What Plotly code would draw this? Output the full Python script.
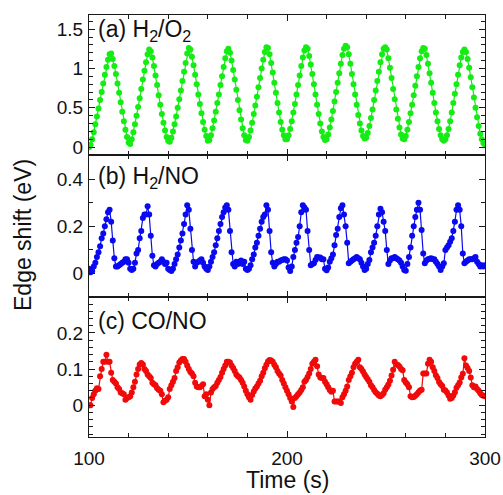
import plotly.graph_objects as go

# ---- data ----
t_start = 100.0
t_step = 0.8

h2o2 = [0.00, 0.03, 0.10, 0.19, 0.29, 0.39, 0.49, 0.60, 0.70, 0.81, 0.92, 1.02, 1.11, 1.18, 1.19,
        1.12, 1.03, 0.93, 0.81, 0.69, 0.57, 0.45, 0.33, 0.22, 0.13, 0.06, 0.04,
        0.10, 0.19, 0.29, 0.40, 0.51, 0.62, 0.74, 0.86, 0.97, 1.08, 1.18, 1.24, 1.22,
        1.14, 1.03, 0.91, 0.79, 0.66, 0.54, 0.42, 0.31, 0.21, 0.13, 0.08, 0.07,
        0.12, 0.20, 0.29, 0.39, 0.50, 0.61, 0.72, 0.84, 0.96, 1.07, 1.19, 1.26, 1.24,
        1.15, 1.04, 0.92, 0.80, 0.67, 0.55, 0.43, 0.32, 0.22, 0.14, 0.08, 0.09,
        0.15, 0.24, 0.34, 0.45, 0.56, 0.67, 0.79, 0.90, 1.02, 1.13, 1.22, 1.25,
        1.20, 1.10, 0.98, 0.86, 0.73, 0.60, 0.47, 0.35, 0.24, 0.15, 0.09, 0.08,
        0.13, 0.21, 0.31, 0.42, 0.53, 0.64, 0.76, 0.88, 1.00, 1.11, 1.21, 1.27, 1.26,
        1.18, 1.07, 0.95, 0.82, 0.69, 0.56, 0.44, 0.32, 0.22, 0.15, 0.10, 0.10,
        0.15, 0.23, 0.33, 0.44, 0.55, 0.67, 0.79, 0.91, 1.03, 1.14, 1.23, 1.27, 1.25,
        1.16, 1.05, 0.93, 0.80, 0.67, 0.54, 0.42, 0.30, 0.20, 0.13, 0.09, 0.10,
        0.16, 0.25, 0.35, 0.46, 0.58, 0.70, 0.82, 0.94, 1.06, 1.17, 1.25, 1.29, 1.27,
        1.18, 1.06, 0.93, 0.80, 0.67, 0.54, 0.41, 0.30, 0.21, 0.14, 0.11, 0.12,
        0.18, 0.27, 0.37, 0.48, 0.60, 0.72, 0.84, 0.96, 1.08, 1.18, 1.25, 1.27,
        1.24, 1.13, 1.01, 0.88, 0.74, 0.61, 0.48, 0.36, 0.25, 0.16, 0.11, 0.10,
        0.14, 0.22, 0.32, 0.43, 0.54, 0.66, 0.78, 0.90, 1.02, 1.13, 1.22, 1.26, 1.25,
        1.17, 1.06, 0.94, 0.82, 0.69, 0.56, 0.44, 0.33, 0.23, 0.15, 0.10, 0.08, 0.10,
        0.15, 0.23, 0.33, 0.44, 0.56, 0.68, 0.80, 0.92, 1.04, 1.14, 1.21, 1.24, 1.21,
        1.12, 1.01, 0.89, 0.76, 0.63, 0.50, 0.38, 0.27, 0.17, 0.10, 0.05, 0.03]

h2no = [0.02, 0.005, 0.01, 0.03, 0.045, 0.07, 0.09, 0.115, 0.15, 0.17, 0.20, 0.23, 0.26, 0.27,
        0.22, 0.14, 0.065, 0.03, 0.03, 0.035, 0.04, 0.045, 0.05, 0.06, 0.06, 0.045, 0.02,
        0.015, 0.02, 0.045, 0.085, 0.10, 0.15, 0.18, 0.235, 0.25, 0.25, 0.285, 0.25, 0.16,
        0.075, 0.035, 0.03, 0.04, 0.045, 0.05, 0.06, 0.05, 0.04, 0.045, 0.02, 0.015, 0.01,
        0.02, 0.04, 0.06, 0.08, 0.11, 0.14, 0.17, 0.21, 0.25, 0.29, 0.27, 0.19, 0.10, 0.05,
        0.03, 0.045, 0.05, 0.055, 0.06, 0.045, 0.03, 0.02, 0.015, 0.03, 0.05, 0.07, 0.09,
        0.12, 0.15, 0.18, 0.21, 0.24, 0.26, 0.28, 0.29, 0.27, 0.18, 0.09, 0.04, 0.03, 0.05,
        0.04, 0.05, 0.055, 0.04, 0.05, 0.02, 0.015, 0.02, 0.035, 0.06, 0.08, 0.11, 0.13,
        0.16, 0.19, 0.22, 0.24, 0.25, 0.29, 0.27, 0.18, 0.09, 0.045, 0.03, 0.04, 0.05, 0.05,
        0.055, 0.057, 0.06, 0.06, 0.055, 0.025, 0.01, 0.03, 0.07, 0.10, 0.13, 0.155, 0.20,
        0.26, 0.29, 0.28, 0.27, 0.18, 0.10, 0.035, 0.04, 0.043, 0.057, 0.07, 0.068, 0.068,
        0.06, 0.06, 0.02, 0.014, 0.025, 0.05, 0.065, 0.08, 0.12, 0.163, 0.19, 0.24, 0.277,
        0.29, 0.25, 0.20, 0.13, 0.043, 0.05, 0.055, 0.06, 0.065, 0.07, 0.065, 0.06, 0.045,
        0.03, 0.015, 0.02, 0.04, 0.057, 0.09, 0.11, 0.13, 0.16, 0.20, 0.25, 0.275, 0.26,
        0.22, 0.18, 0.10, 0.04, 0.055, 0.065, 0.065, 0.07, 0.065, 0.06, 0.055, 0.045, 0.03,
        0.015, 0.012, 0.04, 0.07, 0.11, 0.16, 0.20, 0.24, 0.27, 0.30, 0.27, 0.185, 0.085,
        0.043, 0.055, 0.06, 0.062, 0.065, 0.06, 0.06, 0.05, 0.04, 0.03, 0.015, 0.03, 0.043,
        0.10, 0.11, 0.12, 0.135, 0.15, 0.18, 0.22, 0.27, 0.29, 0.27, 0.20, 0.085, 0.043,
        0.05, 0.055, 0.06, 0.06, 0.06, 0.065, 0.07, 0.05, 0.04, 0.03, 0.035, 0.03, 0.035]

cono = [0.00, 0.00, 0.02, 0.03, 0.04, 0.047, 0.045, 0.08, 0.10, 0.12, 0.12, 0.14, 0.12, 0.12,
        0.09, 0.07, 0.065, 0.06, 0.05, 0.045, 0.035, 0.033, 0.03, 0.015, 0.02, 0.022, 0.025,
        0.035, 0.05, 0.065, 0.085, 0.10, 0.113, 0.117, 0.113, 0.10, 0.095, 0.085, 0.08,
        0.075, 0.062, 0.058, 0.055, 0.047, 0.043, 0.04, 0.03, 0.008, 0.012, 0.015, 0.022,
        0.045, 0.055, 0.065, 0.075, 0.095, 0.105, 0.118, 0.124, 0.128, 0.128, 0.12, 0.11,
        0.10, 0.092, 0.088, 0.08, 0.062, 0.052, 0.05, 0.05, 0.053, 0.058, 0.025, 0.03,
        0.015, 0.00, 0.035, 0.045, 0.05, 0.053, 0.062, 0.07, 0.078, 0.09, 0.10, 0.11, 0.12,
        0.12, 0.118, 0.11, 0.103, 0.095, 0.085, 0.08, 0.077, 0.07, 0.062, 0.052, 0.04, 0.03,
        0.022, 0.015, 0.028, 0.038, 0.046, 0.052, 0.06, 0.068, 0.08, 0.09, 0.102, 0.112,
        0.121, 0.125, 0.124, 0.12, 0.112, 0.105, 0.095, 0.088, 0.082, 0.07, 0.06, 0.05,
        0.04, 0.03, 0.02, 0.01, -0.005, 0.02, 0.025, 0.03, 0.035, 0.042, 0.05, 0.065, 0.07,
        0.078, 0.088, 0.10, 0.115, 0.12, 0.126, 0.108, 0.085, 0.077, 0.075, 0.075, 0.065,
        0.058, 0.05, 0.042, 0.037, 0.04, 0.01, 0.01, 0.01, 0.01, 0.006, 0.022, 0.03, 0.04,
        0.052, 0.07, 0.08, 0.09, 0.105, 0.115, 0.12, 0.126, 0.105, 0.10, 0.093, 0.085,
        0.078, 0.072, 0.065, 0.055, 0.05, 0.042, 0.036, 0.032, 0.027, 0.025, 0.028, 0.033,
        0.043, 0.05, 0.057, 0.068, 0.082, 0.098, 0.12, 0.113, 0.111, 0.107, 0.10, 0.097,
        0.07, 0.063, 0.058, 0.05, 0.025, 0.022, 0.023, 0.026, 0.03, 0.036, 0.041, 0.043,
        0.088, 0.088, 0.088, 0.115, 0.126, 0.12, 0.105, 0.095, 0.083, 0.075, 0.064, 0.058,
        0.053, 0.043, 0.041, 0.035, 0.027, 0.018, 0.02, 0.027, 0.036, 0.048, 0.055, 0.063,
        0.077, 0.087, 0.13, 0.11, 0.103, 0.095, 0.077, 0.055, 0.05, 0.052, 0.045, 0.04,
        0.033, 0.028, 0.026, 0.025]

time = [t_start + t_step * i for i in range(len(h2o2))]

labels = ["(a) H<sub>2</sub>/O<sub>2</sub>", "(b) H<sub>2</sub>/NO", "(c) CO/NO"]
colors = ["#14ec14", "#0a0af0", "#f00a0a"]
series = [h2o2, h2no, cono]

# ---- figure ----
FONT = "Liberation Sans, Arial, Helvetica, sans-serif"
fig = go.Figure()

yaxes = ["y", "y2", "y3"]
xaxes = ["x", "x2", "x3"]
for k in range(3):
    fig.add_trace(go.Scatter(
        x=time, y=series[k], mode="lines+markers",
        line=dict(color=colors[k], width=1.2),
        marker=dict(color=colors[k], size=6, line=dict(width=0)),
        xaxis=xaxes[k], yaxis=yaxes[k], showlegend=False))

H = 422.0
doms = [[(437 - 155) / H, 1.0], [(437 - 297) / H, (437 - 155) / H], [0.0, (437 - 297) / H]]
yranges = [[-0.1, 1.68], [-0.1, 0.503], [-0.088, 0.2995]]
ydticks = [0.5, 0.2, 0.1]
yminor = [0.1, 0.1, 0.02]

axis_common = dict(showline=True, linecolor="#1a1a1a", linewidth=1.2, mirror="allticks",
                   ticks="inside", ticklen=6, tickwidth=1, tickcolor="#1a1a1a",
                   showgrid=False, zeroline=False, automargin=False,
                   tickfont=dict(family=FONT, size=19, color="#111"))

layout = dict(width=503, height=495,
              margin=dict(l=89, r=18, t=15, b=58, autoexpand=False),
              plot_bgcolor="white", paper_bgcolor="white", font=dict(family=FONT))

for k in range(3):
    xs = "xaxis" if k == 0 else "xaxis%d" % (k + 1)
    ys = "yaxis" if k == 0 else "yaxis%d" % (k + 1)
    layout[xs] = dict(axis_common, range=[100, 300], domain=[0, 1], anchor=yaxes[k],
                      tickvals=[100, 200, 300], showticklabels=(k == 2),
                      ticklabelstandoff=4,
                      minor=dict(dtick=20, ticks="inside", ticklen=3.5, tickcolor="#1a1a1a",
                                 showgrid=False))
    layout[ys] = dict(axis_common, range=yranges[k], domain=doms[k], anchor=xaxes[k],
                      tick0=0, dtick=ydticks[k], ticklabelstandoff=1,
                      minor=dict(dtick=yminor[k], ticks="inside", ticklen=3.5,
                                 tickcolor="#1a1a1a", showgrid=False))

fig.update_layout(**layout)

ann = []
label_y = [(437 - 31) / H, (437 - 177) / H, (437 - 321) / H]
for k in range(3):
    ann.append(dict(text=labels[k], xref="paper", yref="paper", x=(96 - 89) / 396, y=label_y[k],
                    xanchor="left", yanchor="middle", showarrow=False,
                    font=dict(family=FONT, size=23, color="#111")))
ann.append(dict(text="Edge shift (eV)", xref="paper", yref="paper", x=(23 - 89) / 396,
                y=(437 - 235) / H,
                textangle=-90, xanchor="center", yanchor="middle", showarrow=False,
                font=dict(family=FONT, size=23, color="#111")))
ann.append(dict(text="Time (s)", xref="paper", yref="paper", x=0.5, y=(437 - 480) / H,
                xanchor="center", yanchor="middle", showarrow=False,
                font=dict(family=FONT, size=23, color="#111")))
fig.update_layout(annotations=ann)

fig.write_html("out.html", config={"displayModeBar": False},
               post_script="document.body.style.margin='0px';"
                           "document.body.style.overflow='hidden';")
